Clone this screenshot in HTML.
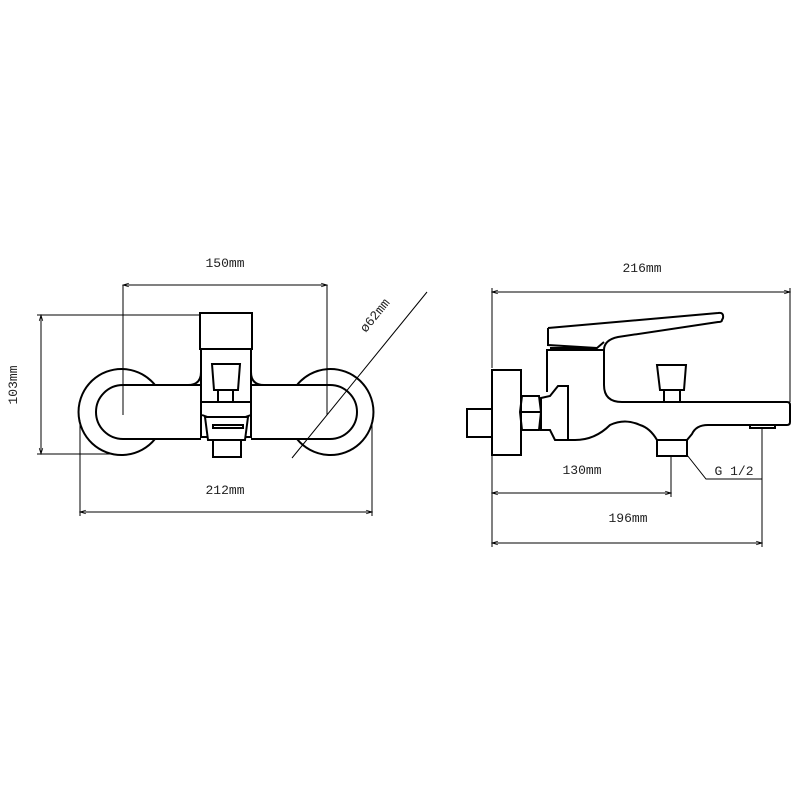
<!DOCTYPE html>
<html><head><style>
html,body{margin:0;padding:0;background:#fff;}
svg{display:block}
text{font-family:"Liberation Mono",monospace;font-size:13px;fill:#222}
</style></head><body>
<svg width="800" height="800" viewBox="0 0 800 800" xmlns="http://www.w3.org/2000/svg">
<defs>
<marker id="a" viewBox="0 0 10 10" refX="10" refY="5" markerWidth="8" markerHeight="6" orient="auto-start-reverse"><path d="M0,2 L10,5 L0,8" fill="none" stroke="#000" stroke-width="1.2"/></marker>
</defs>
<g fill="none" stroke="#000" stroke-width="1">
<line x1="123" y1="285" x2="327" y2="285" marker-start="url(#a)" marker-end="url(#a)"/>
<line x1="123" y1="285" x2="123" y2="415"/>
<line x1="327" y1="285" x2="327" y2="415"/>
<line x1="41" y1="315" x2="41" y2="454" marker-start="url(#a)" marker-end="url(#a)"/>
<line x1="37" y1="315" x2="200" y2="315"/>
<line x1="37" y1="454" x2="113" y2="454"/>
<line x1="80" y1="512" x2="372" y2="512" marker-start="url(#a)" marker-end="url(#a)"/>
<line x1="80" y1="420" x2="80" y2="516"/>
<line x1="372" y1="420" x2="372" y2="516"/>
</g>
<g fill="none" stroke="#000" stroke-width="2">
<path d="M155,385 A43,43 0 1 0 155,439"/>
<path d="M297,385 A43,43 0 1 1 297,439"/>
<path d="M201,385 L123,385 A27,27 0 0 0 123,439 L201,439 M251,385 L330,385 A27,27 0 0 1 330,439 L251,439"/>
<path d="M201,372 Q201,385 188,385 M251,372 Q251,385 264,385" />
<rect x="201" y="349" width="50" height="88" fill="#fff"/>
<rect x="200" y="313" width="52" height="36" fill="#fff"/>
<path d="M212,364 L240,364 L238,390 L214,390 Z"/>
<rect x="218" y="390" width="15" height="12"/>
<line x1="201" y1="402" x2="251" y2="402"/>
<path d="M202,415 Q226,425 251,415"/>
<path d="M205,417 L248,417 L245,440 L208,440 Z" fill="#fff"/>
<rect x="213" y="425" width="30" height="3"/>
<rect x="213" y="440" width="28" height="17"/>
</g>
<line x1="427" y1="292" x2="292" y2="458" stroke="#000" stroke-width="1"/>
<text x="225" y="267" text-anchor="middle">150mm</text>
<text x="225" y="494" text-anchor="middle">212mm</text>
<text transform="translate(17,385) rotate(-90)" text-anchor="middle">103mm</text>
<text transform="translate(378,318) rotate(-51)" text-anchor="middle">ø62mm</text>

<g fill="none" stroke="#000" stroke-width="1">
<line x1="492" y1="292" x2="790" y2="292" marker-start="url(#a)" marker-end="url(#a)"/>
<line x1="492" y1="288" x2="492" y2="368"/>
<line x1="790" y1="288" x2="790" y2="402"/>
<line x1="492" y1="493" x2="671" y2="493" marker-start="url(#a)" marker-end="url(#a)"/>
<line x1="671" y1="457" x2="671" y2="497"/>
<line x1="492" y1="543" x2="762" y2="543" marker-start="url(#a)" marker-end="url(#a)"/>
<line x1="492" y1="455" x2="492" y2="547"/>
<line x1="762" y1="428" x2="762" y2="547"/>
<polyline points="687,455 706,479 762,479"/>
</g>
<g fill="none" stroke="#000" stroke-width="2">
<rect x="467" y="409" width="25" height="28"/>
<rect x="492" y="370" width="29" height="85"/>
<path d="M522,396 L539,396 L541,412 L539,430 L522,430 L520,412 Z"/>
<line x1="521" y1="412" x2="541" y2="412"/>
<path d="M541,398 L550,396 L558,386 L568,386 L568,440 L555,440 L550,430 L541,430 Z"/>
<path d="M547,392 L547,350 L604,350 L604,385 Q604,402 622,402 L787,402 Q790,402 790,405 L790,422 Q790,425 787,425 L745,425 L708,425 Q696,425 692,434 L687,440 L657,440 Q650,428 640,425 Q625,418 610,425 Q595,440 575,440 L568,440"/>
<rect x="657" y="440" width="30" height="16"/>
<rect x="750" y="425" width="25" height="3"/>
<path d="M548,328 L718,313 Q724,312 723,318 L722,320 Q722,322 718,322 L618,337 Q604,340 604,350 M548,328 L548,345 L597,348 L604,342"/>
<line x1="550" y1="348" x2="597" y2="348"/>
<path d="M657,365 L686,365 L684,390 L660,390 Z"/>
<rect x="664" y="390" width="16" height="12"/>
</g>
<text x="642" y="272" text-anchor="middle">216mm</text>
<text x="582" y="474" text-anchor="middle">130mm</text>
<text x="734" y="475" text-anchor="middle">G 1/2</text>
<text x="628" y="522" text-anchor="middle">196mm</text>
</svg>
</body></html>
